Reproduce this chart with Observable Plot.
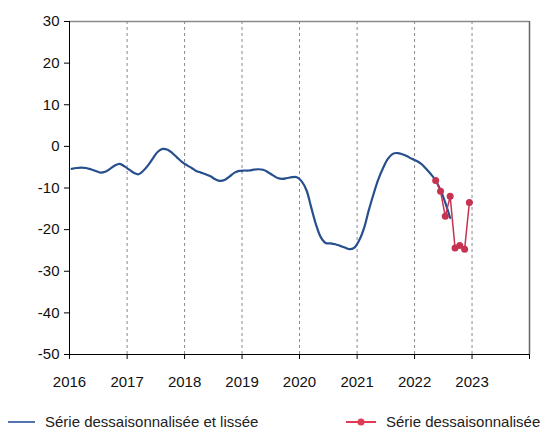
<!DOCTYPE html>
<html><head><meta charset="utf-8">
<script src="https://cdn.jsdelivr.net/npm/d3@7"></script>
<script src="https://cdn.jsdelivr.net/npm/@observablehq/plot@0.6"></script>
<style>
body{margin:0;background:#fff;font-family:"Liberation Sans",Arial,sans-serif;}
#chart{width:557px;}
#legend{position:relative;width:557px;height:40px;font-size:15px;color:#222;}
.item{position:absolute;top:18px;display:flex;align-items:center;white-space:nowrap;}
.item svg{margin-right:10px;}
</style></head><body><div id="chart"></div><div id="legend"></div>
<script>
// ---- data ----
const yearTicks = [2016, 2017, 2018, 2019, 2020, 2021, 2022, 2023, 2024];
const gridYears = [2017, 2018, 2019, 2020, 2021, 2022, 2023];
const yTicks = [-50, -40, -30, -20, -10, 0, 10, 20, 30];
const smoothedLabel = "Série dessaisonnalisée et lissée";
const rawLabel = "Série dessaisonnalisée";
// monthly, starting January 2016
const smoothedStart = [2016, 0];
const smoothedValues = [
  -5.4, -5.2, -5.1, -5.2, -5.5, -5.9, -6.3, -6.1, -5.4, -4.6, -4.2, -4.8,
  -5.6, -6.4, -6.7, -5.8, -4.5, -2.8, -1.3, -0.6, -0.8, -1.6, -2.7, -3.7,
  -4.5, -5.2, -5.9, -6.3, -6.7, -7.2, -7.9, -8.3, -8.0, -7.2, -6.3, -5.9,
  -5.8, -5.8, -5.6, -5.5, -5.6, -6.2, -6.9, -7.6, -7.8, -7.6, -7.4, -7.4,
  -8.4, -10.6, -14.6, -18.8, -21.8, -23.2, -23.3, -23.5, -23.9, -24.3, -24.7, -24.3,
  -22.5, -19.5, -15.5, -11.5, -8.0, -5.2, -3.0, -1.8, -1.6, -1.9, -2.4, -3.0,
  -3.5, -4.3, -5.4, -6.7, -8.2, -10.5, -13.5, -17.2
];
// monthly, starting May 2022
const rawStart = [2022, 4];
const rawValues = [-8.2, -10.8, -16.8, -12.0, -24.4, -23.8, -24.7, -13.5];

const blueColor = "#274f8e";
const redColor = "#c53350";

const monthDate = (start, i) => new Date(Date.UTC(start[0], start[1] + i, 15));
const yearDate = y => new Date(Date.UTC(y, 0, 1));
const smoothed = smoothedValues.map((v, i) => ({date: monthDate(smoothedStart, i), value: v}));
const raw = rawValues.map((v, i) => ({date: monthDate(rawStart, i), value: v}));

const chart = Plot.plot({
  width: 557,
  height: 395,
  marginTop: 21,
  marginBottom: 41,
  marginLeft: 69,
  marginRight: 28,
  style: {fontFamily: '"Liberation Sans", Arial, sans-serif', fontSize: "15px", color: "#111"},
  x: {type: "utc", domain: [yearDate(2016), yearDate(2024)], label: null},
  y: {domain: [-50, 30], label: null},
  marks: [
    Plot.ruleX(gridYears, {x: d => yearDate(d), stroke: "#8a8a8a", strokeDasharray: "3,3", strokeWidth: 1}),
    Plot.ruleY([30], {stroke: "#8a8a8a", strokeWidth: 1.5}),
    Plot.ruleX([yearDate(2024)], {stroke: "#666", strokeWidth: 1.5}),
    Plot.axisX({ticks: yearTicks.map(yearDate), tickFormat: d => d.getUTCFullYear() < 2024 ? String(d.getUTCFullYear()) : "", tickSize: 5, tickPadding: 17, fontSize: 15, stroke: "#000", label: null}),
    Plot.axisY({ticks: yTicks, tickFormat: d => String(d), tickSize: 5, tickPadding: 5, fontSize: 15, stroke: "#000", label: null}),
    Plot.ruleX([yearDate(2016)], {stroke: "#000", strokeWidth: 1}),
    Plot.ruleY([-50], {stroke: "#000", strokeWidth: 1}),
    Plot.line(smoothed, {x: "date", y: "value", stroke: blueColor, strokeWidth: 2.2, curve: "catmull-rom"}),
    Plot.line(raw, {x: "date", y: "value", stroke: redColor, strokeWidth: 1.5}),
    Plot.dot(raw, {x: "date", y: "value", fill: redColor, r: 3.5})
  ]
});
document.getElementById("chart").append(chart);

const legend = document.getElementById("legend");
legend.innerHTML = `
  <div class="item" style="left:8px"><svg width="27" height="8"><line x1="0" y1="4" x2="27" y2="4" stroke="#5474b0" stroke-width="2"/></svg><span>${smoothedLabel}</span></div>
  <div class="item" style="left:346px"><svg width="30" height="8"><line x1="0" y1="4" x2="30" y2="4" stroke="#e03a55" stroke-width="2"/><circle cx="15" cy="4" r="3.5" fill="#e03a55"/></svg><span>${rawLabel}</span></div>`;
</script></body></html>
